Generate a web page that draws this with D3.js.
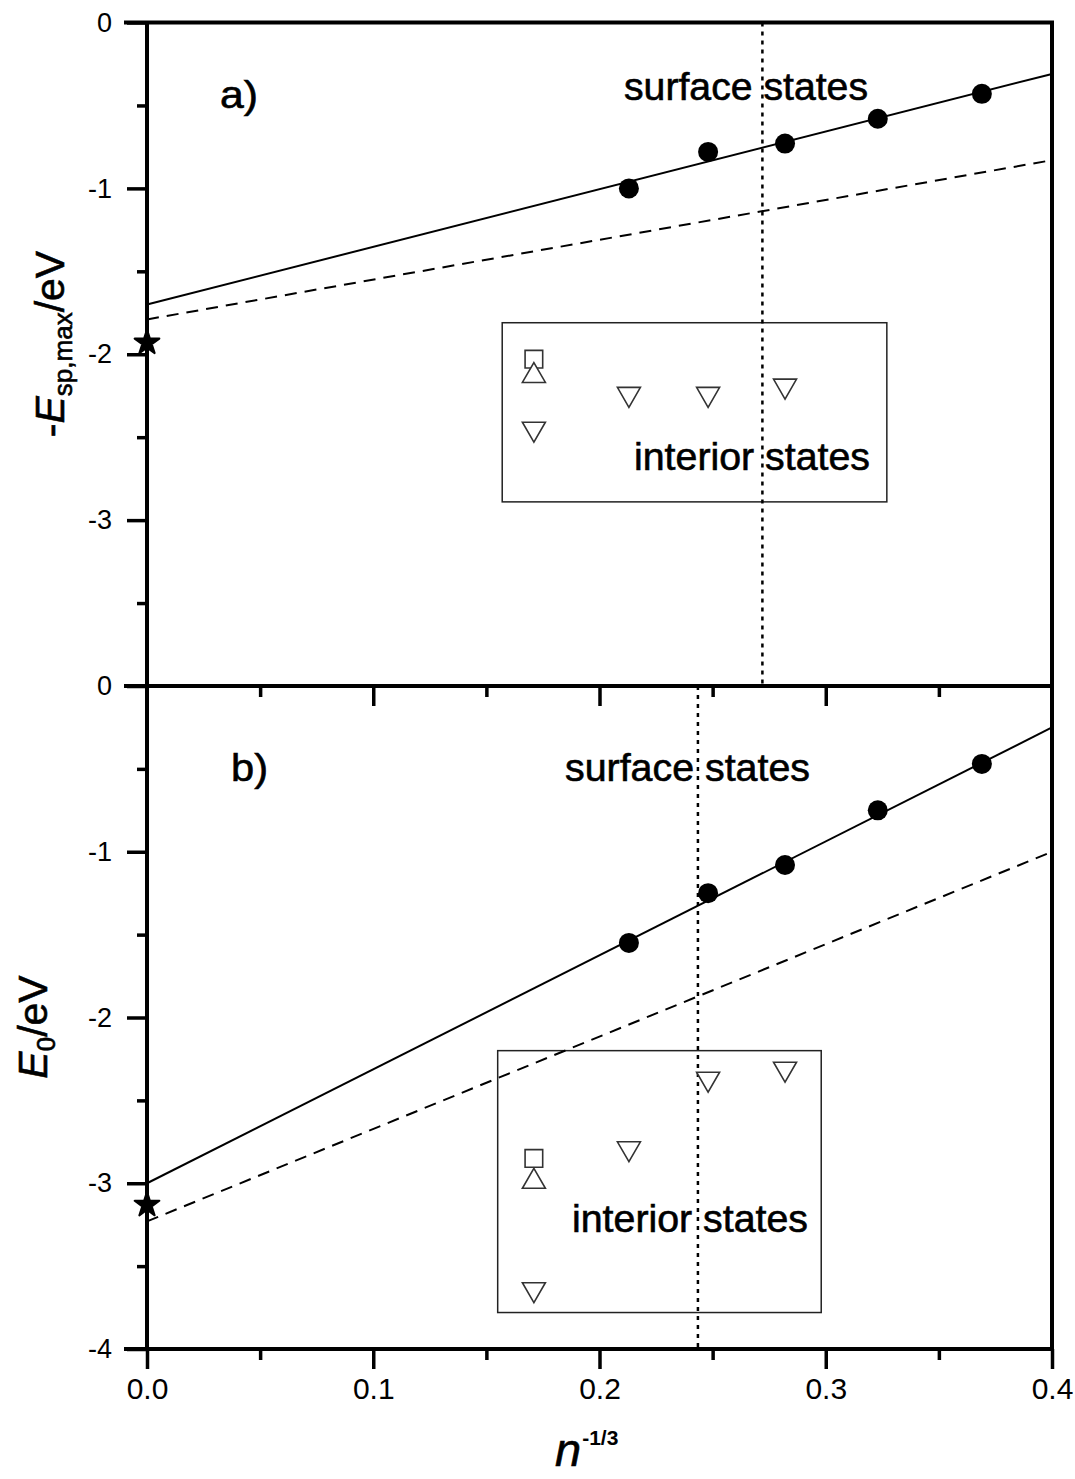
<!DOCTYPE html>
<html>
<head>
<meta charset="utf-8">
<script src="https://cdn.jsdelivr.net/npm/d3@7"></script>
<style>
  body { margin: 0; background: #fff; }
  text { font-family: "Liberation Sans", Arial, sans-serif; fill: #000; }
</style>
</head>
<body>
<script>
// x values (n^-1/3) of the clusters
let clusterX = [0.213, 0.248, 0.282, 0.323, 0.369];

// surface states, filled circles
let surfaceA = [-1.00, -0.78, -0.73, -0.58, -0.43];
let surfaceB = [-1.55, -1.25, -1.08, -0.75, -0.47];

// bulk value (star at n^-1/3 = 0)
let starA = -1.93;
let starB = -3.13;

// fitted lines (solid) and the dashed ones, as [x, y] end points
let fitA = [[0, -1.70], [0.4, -0.31]];
let dashA = [[0, -1.79], [0.4, -0.83]];
let fitB = [[0, -3.00], [0.4, -0.25]];
let dashB = [[0, -3.23], [0.4, -1.00]];

// interior states: x, y, marker
let interiorA = [
  [0.171, -2.03, "square"],
  [0.171, -2.13, "up"],
  [0.171, -2.45, "down"],
  [0.213, -2.24, "down"],
  [0.248, -2.24, "down"],
  [0.282, -2.19, "down"]
];
let interiorB = [
  [0.171, -2.85, "square"],
  [0.171, -2.99, "up"],
  [0.171, -3.64, "down"],
  [0.213, -2.79, "down"],
  [0.248, -2.37, "down"],
  [0.282, -2.31, "down"]
];

// dotted separators and frame around the interior states
let dividerA = 0.272;
let dividerB = 0.2435;
let boxA = [0.157, 0.327, -1.81, -2.89];
let boxB = [0.155, 0.298, -2.20, -3.78];

let xTicks = [0, 0.1, 0.2, 0.3, 0.4];
let xMinor = [0.05, 0.15, 0.25, 0.35];
let yTicksA = [0, -1, -2, -3];
let yTicksB = [0, -1, -2, -3, -4];
let yMinor = [-0.5, -1.5, -2.5, -3.5];


let svg = d3.select("body")
  .append("svg")
    .attr("width", 1075)
    .attr("height", 1479)
;

let x = d3.scaleLinear().domain([0, 0.4]).range([147, 1052]);
let yA = d3.scaleLinear().domain([-4, 0]).range([686, 22.5]);
let yB = d3.scaleLinear().domain([-4, 0]).range([1349, 686]);


function drawPanel(y, surface, star, fit, dash, interior, divider, box, yTicks, texts){
  let g = svg.append("g");

  // frame of interior states
  g.append("rect")
    .attr("x", x(box[0]))
    .attr("y", y(box[2]))
    .attr("width", x(box[1]) - x(box[0]))
    .attr("height", y(box[3]) - y(box[2]))
    .attr("fill", "none")
    .attr("stroke", "#222")
    .attr("stroke-width", 1.5)
  ;

  let line = d3.line().x(d => x(d[0])).y(d => y(d[1]));

  g.append("path")
    .attr("d", line(fit))
    .attr("fill", "none")
    .attr("stroke", "#000")
    .attr("stroke-width", 2)
  ;
  g.append("path")
    .attr("d", line(dash))
    .attr("fill", "none")
    .attr("stroke", "#000")
    .attr("stroke-width", 2)
    .attr("stroke-dasharray", "12,8")
  ;

  // dotted vertical separator
  g.append("line")
    .attr("x1", x(divider)).attr("x2", x(divider))
    .attr("y1", y(0)).attr("y2", y(-4))
    .attr("stroke", "#000")
    .attr("stroke-width", 2.5)
    .attr("stroke-dasharray", "4,5")
  ;

  g.selectAll("circle").data(surface)
    .enter()
      .append("circle")
      .attr("cx", (d, i) => x(clusterX[i]))
      .attr("cy", d => y(d))
      .attr("r", 10)
      .attr("fill", "#000")
  ;

  let shapes = { square: d3.symbolSquare, up: d3.symbolTriangle, down: d3.symbolTriangle };
  let sizes = { square: 310, up: 229, down: 229 };
  g.selectAll(".interior").data(interior)
    .enter()
      .append("path")
      .attr("class", "interior")
      .attr("d", d => d3.symbol(shapes[d[2]], sizes[d[2]])())
      .attr("transform", d => "translate(" + x(d[0]) + "," + y(d[1]) + ")" + (d[2] == "down" ? " rotate(180)" : ""))
      .attr("fill", "#fff")
      .attr("stroke", "#333")
      .attr("stroke-width", 1.6)
  ;

  g.append("path")
    .attr("d", d3.symbol(d3.symbolStar, 190)())
    .attr("transform", "translate(" + x(0) + "," + y(star) + ")")
    .attr("fill", "#000")
    .attr("stroke", "#000")
    .attr("stroke-width", 2)
    .attr("stroke-linejoin", "round")
  ;

  // text labels
  texts.forEach(t => {
    g.append("text")
      .attr("x", t[1])
      .attr("y", t[2])
      .attr("font-size", 38)
      .attr("stroke", "#000")
      .attr("stroke-width", 0.6)
      .attr("textLength", t[3])
      .attr("lengthAdjust", "spacingAndGlyphs")
      .text(t[0])
    ;
  });

  // left axis, major and minor ticks
  let major = g.append("g")
    .attr("transform", "translate(147,0)")
    .call(d3.axisLeft(y).tickValues(yTicks).tickSize(20).tickPadding(15).tickSizeOuter(0).tickFormat(d => String(d)));
  major.select(".domain").remove();
  major.selectAll("line").attr("stroke-width", 3.5);
  major.selectAll("text").attr("font-size", 27).style("font-family", "Liberation Sans");

  let minor = g.append("g")
    .attr("transform", "translate(147,0)")
    .call(d3.axisLeft(y).tickValues(yMinor).tickSize(10).tickFormat(""));
  minor.select(".domain").remove();
  minor.selectAll("line").attr("stroke-width", 3.5);
}

drawPanel(yA, surfaceA, starA, fitA, dashA, interiorA, dividerA, boxA, yTicksA, [
  ["a)", 220, 108, 38],
  ["surface states", 624, 100, 244],
  ["interior states", 634, 470, 236]
]);
drawPanel(yB, surfaceB, starB, fitB, dashB, interiorB, dividerB, boxB, yTicksB, [
  ["b)", 231, 781, 37],
  ["surface states", 565, 781, 245],
  ["interior states", 572, 1232, 236]
]);

// ticks on the shared middle line, pointing down into panel b
let mid = svg.append("g").attr("transform", "translate(0,686)");
mid.call(d3.axisBottom(x).tickValues([0.1, 0.2, 0.3]).tickSize(20).tickFormat(""));
mid.append("g").call(d3.axisBottom(x).tickValues(xMinor).tickSize(11).tickFormat(""));
mid.selectAll(".domain").remove();
mid.selectAll("line").attr("stroke-width", 3.5);

// bottom axis
let bottom = svg.append("g").attr("transform", "translate(0,1349)");
bottom.call(d3.axisBottom(x).tickValues(xTicks).tickSize(20).tickPadding(9).tickFormat(d3.format(".1f")));
bottom.append("g").call(d3.axisBottom(x).tickValues(xMinor).tickSize(11).tickFormat(""));
bottom.selectAll(".domain").remove();
bottom.selectAll("line").attr("stroke-width", 3.5);
bottom.selectAll("text").attr("font-size", 30).style("font-family", "Liberation Sans");

// frame lines
let frame = [
  [124, 22.5, 1054, 22.5],
  [124, 686, 1054, 686],
  [124, 1349, 1054, 1349],
  [147, 22.5, 147, 1349],
  [1052, 22.5, 1052, 1349]
];
svg.selectAll(".frame").data(frame)
  .enter()
    .append("line")
    .attr("class", "frame")
    .attr("x1", d => d[0]).attr("y1", d => d[1])
    .attr("x2", d => d[2]).attr("y2", d => d[3])
    .attr("stroke", "#000")
    .attr("stroke-width", 4)
;

// axis titles
let titleA = svg.append("text")
  .attr("transform", "translate(64,344) rotate(-90)")
  .attr("text-anchor", "middle")
  .attr("font-size", 41)
  .attr("stroke", "#000")
  .attr("stroke-width", 0.6)
;
titleA.append("tspan").text("-");
titleA.append("tspan").attr("font-style", "italic").text("E");
titleA.append("tspan").attr("font-size", 26).attr("dy", 8).text("sp,max");
titleA.append("tspan").attr("dy", -8).text("/eV");

let titleB = svg.append("text")
  .attr("transform", "translate(47,1027) rotate(-90)")
  .attr("text-anchor", "middle")
  .attr("font-size", 41)
  .attr("stroke", "#000")
  .attr("stroke-width", 0.6)
;
titleB.append("tspan").attr("font-style", "italic").text("E");
titleB.append("tspan").attr("font-size", 26).attr("dy", 8).text("0");
titleB.append("tspan").attr("dy", -8).text("/eV");

let titleX = svg.append("text")
  .attr("x", 555)
  .attr("y", 1466)
  .attr("stroke", "#000")
  .attr("stroke-width", 0.6)
;
titleX.append("tspan").attr("font-size", 47).attr("font-style", "italic").text("n");
titleX.append("tspan").attr("font-size", 21).attr("font-weight", "bold").attr("stroke-width", 0).attr("dy", -21).attr("dx", 1).text("-1/3");
</script>
</body>
</html>
